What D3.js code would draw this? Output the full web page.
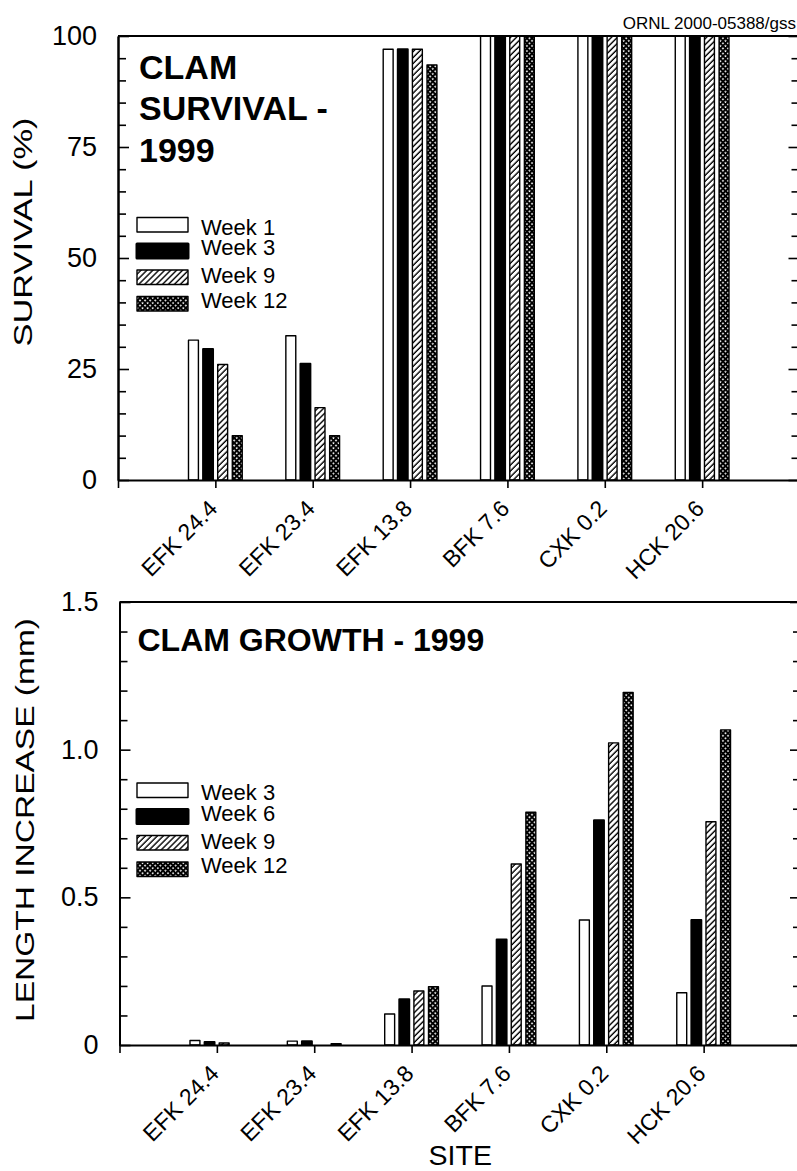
<!DOCTYPE html>
<html>
<head>
<meta charset="utf-8">
<script src="https://cdn.jsdelivr.net/npm/d3@7"></script>
<style>
  body { margin: 0; background: #fff; }
  svg { display: block; }
  text { font-family: "Liberation Sans", Arial, Helvetica, sans-serif; fill: #000; }
</style>
</head>
<body>
<svg id="chart" width="797" height="1171"></svg>
<script>
// Sampling sites (x categories, shared by both panels)
const sites = ["EFK 24.4", "EFK 23.4", "EFK 13.8", "BFK 7.6", "CXK 0.2", "HCK 20.6"];

// Clam survival (%) by exposure week
const survivalWeeks = ["Week 1", "Week 3", "Week 9", "Week 12"];
const survivalWeek1  = [31.5, 32.5, 97.0, 100, 100, 100];
const survivalWeek3  = [29.5, 26.2, 97.0, 100, 100, 100];
const survivalWeek9  = [26.0, 16.3, 97.0, 100, 100, 100];
const survivalWeek12 = [10.0, 10.0, 93.5, 100, 100, 100];
const survivalTicks = [0, 25, 50, 75, 100];

// Clam length increase (mm) by exposure week
const growthWeeks = ["Week 3", "Week 6", "Week 9", "Week 12"];
const growthWeek3  = [0.015, 0.013, 0.105, 0.200, 0.423, 0.177];
const growthWeek6  = [0.010, 0.013, 0.155, 0.357, 0.761, 0.423];
const growthWeek9  = [0.007, 0.000, 0.183, 0.613, 1.023, 0.756];
const growthWeek12 = [0.000, 0.004, 0.197, 0.788, 1.194, 1.067];
const growthTicks = [0, 0.5, 1.0, 1.5];

const svg = d3.select("#chart");
const FONT = '"Liberation Sans", Arial, Helvetica, sans-serif';

// ---- fill patterns -------------------------------------------------------
const defs = svg.append("defs");
const hatch = defs.append("pattern")
  .attr("id", "hatch").attr("patternUnits", "userSpaceOnUse")
  .attr("width", 4.2).attr("height", 4.2)
  .attr("patternTransform", "rotate(45)");
hatch.append("rect").attr("width", 4.2).attr("height", 4.2).attr("fill", "#fff");
hatch.append("line").attr("x1", 1).attr("y1", 0).attr("x2", 1).attr("y2", 4.2)
  .attr("stroke", "#000").attr("stroke-width", 1.4);

const cross = defs.append("pattern")
  .attr("id", "cross").attr("patternUnits", "userSpaceOnUse")
  .attr("width", 3.6).attr("height", 3.6)
  .attr("patternTransform", "rotate(45)");
cross.append("rect").attr("width", 3.6).attr("height", 3.6).attr("fill", "#000");
cross.append("rect").attr("x", 1.1).attr("y", 1.1).attr("width", 1.6).attr("height", 1.6).attr("fill", "#fff");

const fills = ["#fff", "#000", "url(#hatch)", "url(#cross)"];
const strokeW = [1.4, 2.0, 1.4, 1.4];

// x scale of the lower panel, kept for centring the shared axis title
let siteScale;

// ---- panel drawing -------------------------------------------------------
function drawPanel(cfg) {
  const g = svg.append("g");
  const x = d3.scaleLinear().domain([0, sites.length + 1]).range([cfg.left, cfg.right]);
  const y = d3.scaleLinear().domain(cfg.domain).range([cfg.bottom, cfg.top]);
  const unit = x(1) - x(0);
  const slot = unit * 0.15;
  const barW = slot * 0.68;

  // bars
  cfg.series.forEach((vals, s) => {
    g.append("g").selectAll("rect")
      .data(vals.map((v, i) => ({ v, i })).filter(d => d.v > 0))
      .join("rect")
      .attr("x", d => x(d.i + 1) + (s - 1.5) * slot - barW / 2)
      .attr("width", barW)
      .attr("y", d => y(d.v))
      .attr("height", d => y(0) - y(d.v))
      .attr("fill", fills[s])
      .attr("stroke", "#000")
      .attr("stroke-width", strokeW[s])
      .attr("stroke-linejoin", "round");
  });

  // minor / major ticks on left and right, pointing inward
  const minor = d3.range(cfg.domain[0], cfg.domain[1] + cfg.minorStep / 2, cfg.minorStep)
    .filter(v => !cfg.ticks.some(t => Math.abs(t - v) < 1e-9));
  const styleAxis = sel => {
    sel.selectAll("path.domain").attr("stroke", "#000").attr("stroke-width", 2);
    sel.selectAll(".tick line").attr("stroke", "#000").attr("stroke-width", 1.6);
  };
  g.append("g").attr("transform", `translate(${x(0)},0)`)
    .call(d3.axisLeft(y).tickValues(minor).tickSize(-8).tickSizeOuter(0).tickFormat(""))
    .call(styleAxis);
  const left = g.append("g").attr("transform", `translate(${x(0)},0)`)
    .call(d3.axisLeft(y).tickValues(cfg.ticks).tickSize(-11).tickSizeOuter(0)
      .tickPadding(cfg.labelPad).tickFormat(cfg.format))
    .call(styleAxis);
  left.selectAll("text").attr("font-family", FONT).attr("font-size", 27).attr("fill", "#000");
  g.append("g").attr("transform", `translate(${x(sites.length + 1)},0)`)
    .call(d3.axisRight(y).tickValues(minor).tickSize(-8).tickSizeOuter(0).tickFormat(""))
    .call(styleAxis);
  g.append("g").attr("transform", `translate(${x(sites.length + 1)},0)`)
    .call(d3.axisRight(y).tickValues(cfg.ticks).tickSize(-11).tickSizeOuter(0).tickFormat(""))
    .call(styleAxis);

  // top frame line
  g.append("line")
    .attr("x1", x(0)).attr("x2", x(sites.length + 1))
    .attr("y1", y(cfg.domain[1])).attr("y2", y(cfg.domain[1]))
    .attr("stroke", "#000").attr("stroke-width", 2);

  // category axis
  const bottomAxis = g.append("g").attr("transform", `translate(0,${y(0)})`)
    .call(d3.axisBottom(x).tickValues(d3.range(0, sites.length + 2)).tickSize(8).tickSizeOuter(0)
      .tickFormat(i => (i >= 1 && i <= sites.length) ? sites[i - 1] : ""))
    .call(styleAxis);
  bottomAxis.selectAll("text")
    .attr("font-family", FONT).attr("font-size", 23).attr("fill", "#000")
    .attr("text-anchor", "end")
    .attr("x", 0).attr("y", 0).attr("dy", null)
    .attr("transform", "translate(3,30) rotate(-45)");

  // y-axis title
  g.append("text")
    .attr("transform", `translate(${cfg.yTitleX},${cfg.yTitleY}) rotate(-90)`)
    .attr("text-anchor", "middle")
    .attr("font-size", 25)
    .attr("textLength", cfg.yTitleLen)
    .attr("lengthAdjust", "spacingAndGlyphs")
    .text(cfg.yTitle);

  // panel title
  const t = g.append("text").attr("font-weight", "bold").attr("font-size", cfg.titleSize);
  cfg.titleLines.forEach((line, k) => {
    t.append("tspan").attr("x", cfg.titleX).attr("y", cfg.titleY + k * 41.7).text(line);
  });

  // legend
  const rectOff = [0, 25.5, 52.5, 79];
  const textOff = [17, 37.5, 65.5, 90];
  cfg.labels.forEach((lab, s) => {
    g.append("rect")
      .attr("x", 137).attr("y", cfg.legendTop + rectOff[s] + (s === 1 ? 1 : 0))
      .attr("width", 51).attr("height", s === 1 ? 14 : 14.5)
      .attr("fill", fills[s]).attr("stroke", "#000")
      .attr("stroke-width", s === 1 ? 3 : 1.4)
      .attr("stroke-linejoin", "round");
    g.append("text")
      .attr("x", 201).attr("y", cfg.legendTop + textOff[s])
      .attr("font-size", 22)
      .text(lab);
  });
  return x;
}

drawPanel({
  left: 118, right: 799.5, top: 36, bottom: 480,
  domain: [0, 100], ticks: survivalTicks, minorStep: 5,
  format: d3.format("d"), labelPad: 21,
  series: [survivalWeek1, survivalWeek3, survivalWeek9, survivalWeek12],
  labels: survivalWeeks,
  yTitle: "SURVIVAL (%)", yTitleX: 31.5, yTitleY: 232, yTitleLen: 229,
  titleLines: ["CLAM", "SURVIVAL -", "1999"], titleX: 139, titleY: 78.5, titleSize: 34,
  legendTop: 217.5
});

siteScale = drawPanel({
  left: 119.5, right: 801, top: 602, bottom: 1045,
  domain: [0, 1.5], ticks: growthTicks, minorStep: 0.1,
  format: v => v === 0 ? "0" : d3.format(".1f")(v), labelPad: 21,
  series: [growthWeek3, growthWeek6, growthWeek9, growthWeek12],
  labels: growthWeeks,
  yTitle: "LENGTH INCREASE (mm)", yTitleX: 34, yTitleY: 820, yTitleLen: 404,
  titleLines: ["CLAM GROWTH - 1999"], titleX: 137.5, titleY: 651, titleSize: 32,
  legendTop: 783
});

// axis title for sites, centred under the category axis
svg.append("text")
  .attr("x", (siteScale(0) + siteScale(sites.length + 1)) / 2).attr("y", 1164.5)
  .attr("text-anchor", "middle")
  .attr("font-size", 28.5)
  .text("SITE");

// figure identifier
svg.append("text")
  .attr("x", 796).attr("y", 29)
  .attr("text-anchor", "end")
  .attr("font-size", 17)
  .text("ORNL 2000-05388/gss");
</script>
</body>
</html>
